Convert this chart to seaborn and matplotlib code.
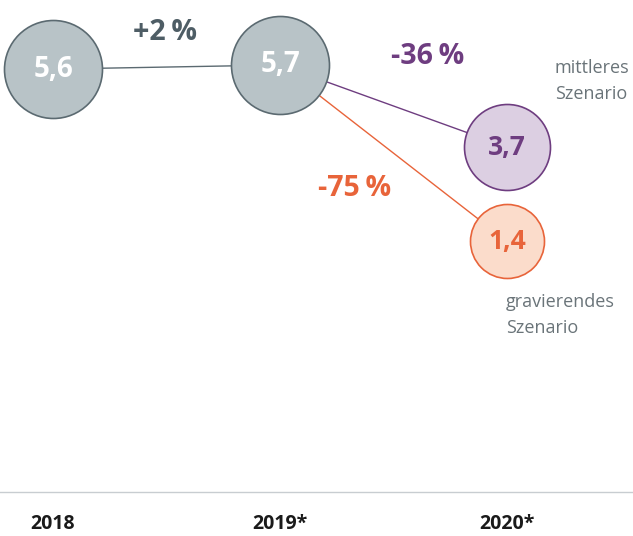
import matplotlib
matplotlib.use("Agg")
import matplotlib.pyplot as plt
import seaborn as sns

# ---- data ----
years = ["2018", "2019*", "2020*"]
base_values = [5.6, 5.7]                 # 2018, 2019*
scenario_names = ["mittleres", "gravierendes"]
scenario_values = [3.7, 1.4]             # 2020* scenarios
changes = ["+2\u2009%", "-36\u2009%", "-75\u2009%"]

# ---- styles ----
GREY_FILL, GREY_EDGE, GREY_TXT = "#b8c3c7", "#5b6a71", "#4e5d65"
PURP_FILL, PURP_EDGE = "#dccfe2", "#6e3d80"
ORNG_FILL, ORNG_EDGE = "#fbdccb", "#e8643a"
LABEL_GREY = "#6a7479"

sns.set_theme(style="white")
FONT = ["Open Sans", "DejaVu Sans"]
plt.rcParams["font.family"] = FONT

W, H = 633, 536
fig = plt.figure(figsize=(W / 100, H / 100), dpi=100)
ax = fig.add_axes([0, 44 / H, 1, 492 / H])

def fx(px):
    return px / W

def fy(py):
    return 1 - py / H

def fmt(v):
    return f"{v:.1f}".replace(".", ",")

# connecting lines
sns.lineplot(x=[0, 1], y=base_values, color=GREY_EDGE, lw=1.0, ax=ax, zorder=1)
sns.lineplot(x=[1, 2], y=[base_values[1], scenario_values[0]], color=PURP_EDGE, lw=1.0, ax=ax, zorder=1)
sns.lineplot(x=[1, 2], y=[base_values[1], scenario_values[1]], color=ORNG_EDGE, lw=1.0, ax=ax, zorder=1)

# circles
def size_for(r_px):
    return (2 * r_px * 0.72) ** 2

sns.scatterplot(x=[0, 1], y=base_values, s=size_for(49), color=GREY_FILL,
                edgecolor=GREY_EDGE, linewidth=1.2, ax=ax, zorder=3, legend=False)
sns.scatterplot(x=[2], y=[scenario_values[0]], s=size_for(43), color=PURP_FILL,
                edgecolor=PURP_EDGE, linewidth=1.2, ax=ax, zorder=3, legend=False)
sns.scatterplot(x=[2], y=[scenario_values[1]], s=size_for(37), color=ORNG_FILL,
                edgecolor=ORNG_EDGE, linewidth=1.2, ax=ax, zorder=3, legend=False)

# values inside circles
for i, v in enumerate(base_values):
    ax.text(i, v, fmt(v), ha="center", va="center", color="white",
            fontsize=20, fontweight="bold", zorder=4)
ax.text(2, scenario_values[0], fmt(scenario_values[0]), ha="center", va="center",
        color=PURP_EDGE, fontsize=19, fontweight="bold", zorder=4)
ax.text(2, scenario_values[1], fmt(scenario_values[1]), ha="center", va="center",
        color=ORNG_EDGE, fontsize=19, fontweight="bold", zorder=4)

# axes scales
ax.set_xlim(-53 / 227, 580 / 227)
ax.set_ylim(5.7 - 427 / 41.0, 5.7 + 65 / 41.0)
ax.set_xticks([0, 1, 2])
ax.set_xticklabels(years, fontsize=14, fontweight="bold", color="#1a1a1a")
ax.set_yticks([])
ax.tick_params(axis="x", length=0, pad=15.5)
for s in ["top", "left", "right"]:
    ax.spines[s].set_visible(False)
ax.spines["bottom"].set_color("#c8cdd1")
ax.spines["bottom"].set_linewidth(1.0)
ax.set_xlabel("")
ax.set_ylabel("")
ax.set_facecolor("white")

# change labels
fig.text(fx(165), fy(32), changes[0], ha="center", va="center", color=GREY_TXT,
         fontsize=20.5, fontweight="bold")
fig.text(fx(428), fy(57), changes[1], ha="center", va="center", color=PURP_EDGE,
         fontsize=20.5, fontweight="bold")
fig.text(fx(355), fy(189), changes[2], ha="center", va="center", color=ORNG_EDGE,
         fontsize=20.5, fontweight="bold")

# scenario labels
fig.text(fx(555), fy(73), scenario_names[0], ha="left", va="baseline",
         color=LABEL_GREY, fontsize=13)
fig.text(fx(555), fy(99), "Szenario", ha="left", va="baseline",
         color=LABEL_GREY, fontsize=13)
fig.text(fx(506), fy(307), scenario_names[1], ha="left", va="baseline",
         color=LABEL_GREY, fontsize=13)
fig.text(fx(506), fy(333), "Szenario", ha="left", va="baseline",
         color=LABEL_GREY, fontsize=13)

fig.savefig("out.png", dpi=100, facecolor="white")
